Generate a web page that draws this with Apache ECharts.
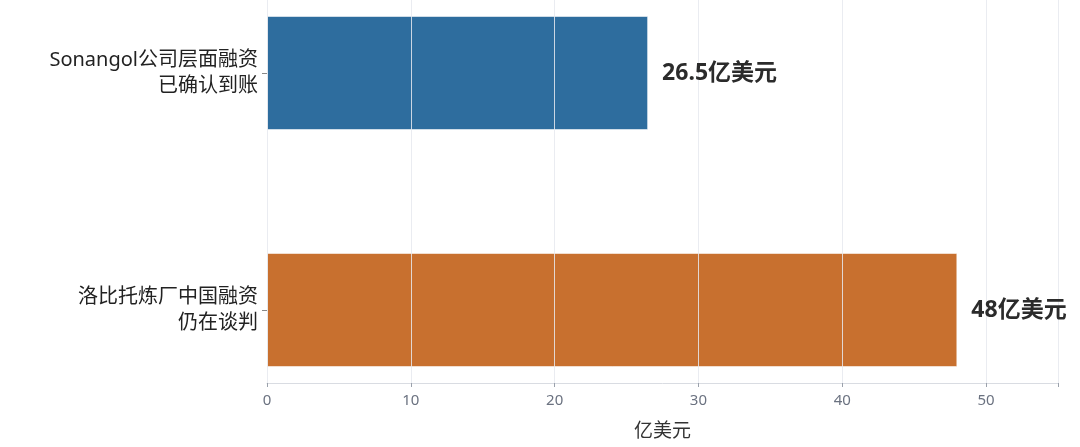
<!DOCTYPE html>
<html lang="zh">
<head>
<meta charset="UTF-8" />
<title>融资</title>
<script src="https://cdn.jsdelivr.net/npm/echarts@6/dist/echarts.min.js"></script>
<style>
  html, body { margin: 0; padding: 0; background: #fff; }
  #main { width: 1080px; height: 447px; }
</style>
</head>
<body>
<div id="main"></div>
<script>
// 数据（从下往上）
var categories = ['洛比托炼厂中国融资\n仍在谈判', 'Sonangol公司层面融资\n已确认到账'];
var values = [48, 26.5];
var valueLabels = ['48亿美元', '26.5亿美元'];
var barColors = ['#c8702f', '#2e6d9e'];
var xTicks = [0, 10, 20, 30, 40, 50];
var xMax = 55;
var unitName = '亿美元';

var font = '"Noto Sans", "Noto Sans CJK SC", sans-serif';

var chart = echarts.init(document.getElementById('main'));

var barData = values.map(function (v, i) {
  return { value: v, itemStyle: { color: barColors[i] } };
});
// 数值标签放在最上层，网格线不压字
var labelData = values.map(function (v, i) {
  return { value: v, label: { formatter: valueLabels[i] } };
});

var option = {
  animation: false,
  textStyle: { fontFamily: font },
  grid: [
    // 柱子所在区域（类目在两端）
    { left: 267, right: 22, top: 73, bottom: 137 },
    // 坐标轴与网格线区域
    { left: 267, right: 22, top: 0, bottom: 64 }
  ],
  xAxis: [
    { type: 'value', gridIndex: 0, min: 0, max: xMax, show: false },
    {
      type: 'value', gridIndex: 1, min: 0, max: xMax, interval: 10, z: 3,
      axisLine: { show: true, lineStyle: { color: '#d9dce2', width: 1 } },
      axisTick: { show: true, length: 4, lineStyle: { color: '#9aa1ab' } },
      axisLabel: {
        fontSize: 15, color: '#6b7280', margin: 10, fontFamily: font,
        formatter: function (v) { return xTicks.indexOf(v) >= 0 ? String(v) : ''; }
      },
      splitLine: { show: true, lineStyle: { color: 'rgba(230,233,238,0.85)', width: 1 } },
      name: unitName,
      nameLocation: 'middle',
      nameGap: 39,
      nameTextStyle: { fontSize: 19, color: '#333', fontFamily: font }
    }
  ],
  yAxis: [
    {
      type: 'category', gridIndex: 0, data: categories, boundaryGap: false,
      axisLine: { show: false },
      axisTick: { show: true, length: 5, lineStyle: { color: '#888' } },
      splitLine: { show: false },
      axisLabel: {
        fontSize: 20, color: '#222', lineHeight: 26, margin: 9,
        align: 'right', fontFamily: font
      }
    },
    { type: 'value', gridIndex: 1, show: false }
  ],
  series: [
    {
      type: 'bar',
      xAxisIndex: 0,
      yAxisIndex: 0,
      data: barData,
      barWidth: 114,
      barGap: '-100%',
      clip: false,
      itemStyle: { borderColor: 'rgba(255,255,255,0.55)', borderWidth: 1 }
    },
    {
      type: 'bar',
      xAxisIndex: 0,
      yAxisIndex: 0,
      data: labelData,
      barWidth: 114,
      barGap: '-100%',
      clip: false,
      z: 10,
      silent: true,
      itemStyle: { color: 'rgba(0,0,0,0)' },
      label: {
        show: true, position: 'right', distance: 14,
        fontSize: 23, fontWeight: 'bold', color: '#2b2b2b', fontFamily: font
      }
    }
  ]
};

chart.setOption(option);
</script>
</body>
</html>
